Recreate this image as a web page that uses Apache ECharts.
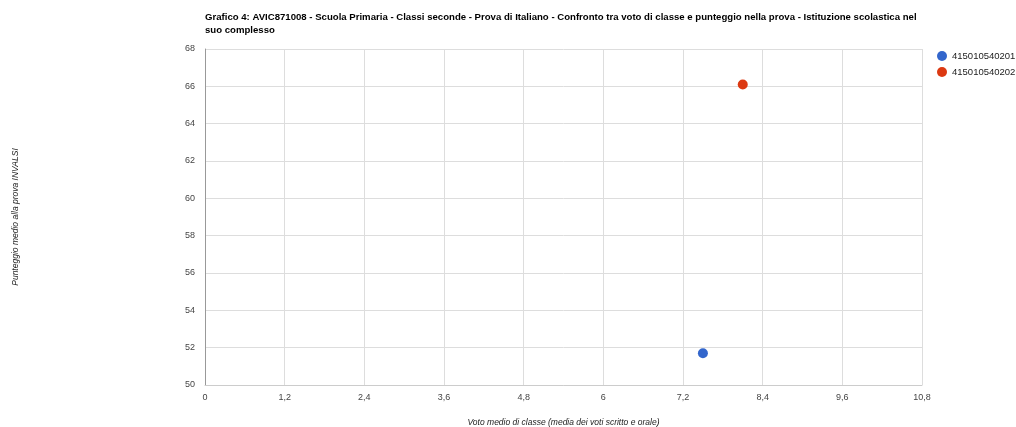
<!DOCTYPE html>
<html><head><meta charset="utf-8">
<script src="https://cdn.jsdelivr.net/npm/echarts@6/dist/echarts.min.js"></script>
<style>html,body{margin:0;padding:0;background:#fff}#c{width:1016px;height:427px}</style>
</head><body><div id="c"></div>
<script>
const seriesNames = ['415010540201', '415010540202'];
const votoClasse = [7.5, 8.1];
const punteggio = [51.7, 66.1];
const colors = ['#3366cc', '#dc3912'];

const chart = echarts.init(document.getElementById('c'));
chart.setOption({
  animation: false,
  title: {
    text: 'Grafico 4: AVIC871008 - Scuola Primaria - Classi seconde - Prova di Italiano - Confronto tra voto di classe e punteggio nella prova - Istituzione scolastica nel\nsuo complesso',
    left: 200, top: 6,
    textStyle: {fontFamily: 'Liberation Sans, Arial', fontSize: 9.6, fontWeight: 'bold', color: '#000', lineHeight: 13}
  },
  legend: {
    orient: 'vertical', left: 932, top: 46, itemWidth: 10, itemHeight: 10, itemGap: 6,
    icon: 'circle',
    textStyle: {fontFamily: 'Liberation Sans, Arial', fontSize: 9.5, color: '#222'}
  },
  grid: {left: 205, right: 94, top: 49, bottom: 42, outerBoundsMode: 'none'},
  xAxis: {
    type: 'value', min: 0, max: 10.8, interval: 1.2,
    name: 'Voto medio di classe (media dei voti scritto e orale)',
    nameLocation: 'middle', nameGap: 33,
    nameTextStyle: {fontFamily: 'Liberation Sans, Arial', fontSize: 8.5, fontStyle: 'italic', color: '#222'},
    axisLine: {show: true, lineStyle: {color: '#ccc'}},
    axisTick: {show: false},
    axisLabel: {color: '#444', fontSize: 9, fontFamily: 'Liberation Sans, Arial', margin: 8,
      formatter: v => (Math.round(v*10)/10).toString().replace('.', ',')},
    splitLine: {show: true, lineStyle: {color: '#ddd', width: 1}}
  },
  yAxis: {
    type: 'value', min: 50, max: 68, interval: 2,
    name: 'Punteggio medio alla prova INVALSI',
    nameLocation: 'middle', nameGap: 185,
    nameTextStyle: {fontFamily: 'Liberation Sans, Arial', fontSize: 8.5, fontStyle: 'italic', color: '#222'},
    axisLine: {show: true, lineStyle: {color: '#999'}},
    axisTick: {show: false},
    axisLabel: {color: '#444', fontSize: 9, fontFamily: 'Liberation Sans, Arial', margin: 10},
    splitLine: {show: true, lineStyle: {color: '#ddd', width: 1}}
  },
  series: seriesNames.map((n, i) => ({
    name: n, type: 'scatter', symbolSize: 10,
    itemStyle: {color: colors[i], opacity: 1},
    data: [[votoClasse[i], punteggio[i]]]
  }))
});
</script></body></html>
